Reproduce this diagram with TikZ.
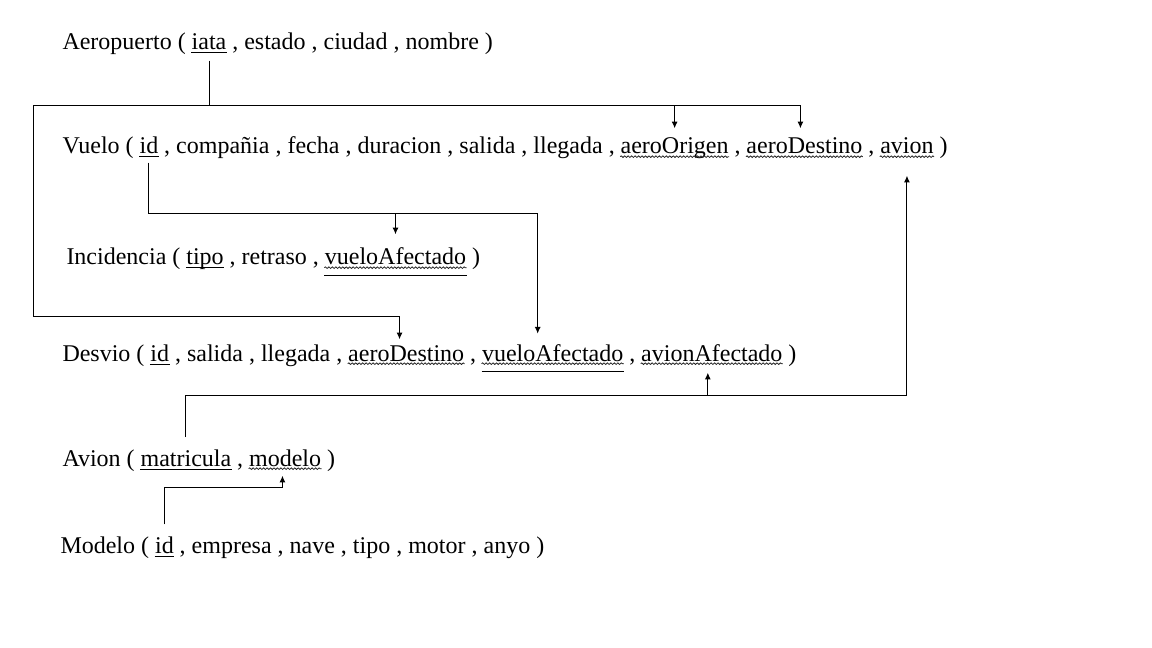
\documentclass[tikz,border=0pt]{standalone}
\usepackage{fontspec}
\setmainfont{Liberation Serif}
\usetikzlibrary{positioning,arrows.meta,decorations.pathmorphing}

\begin{document}
\begin{tikzpicture}[x=0.75pt,y=-0.75pt,line width=0.75pt,
	every node/.style={inner sep=0pt,font=\fontsize{18}{22}\selectfont},
	word/.style={base right=3.7pt of #1},
	fk/.style={decorate,decoration={snake,amplitude=0.6pt,segment length=2.6pt},line width=0.6pt,black!85},
	>={Latex[length=5pt,width=4.5pt]}]
	
	\useasboundingbox (0,0) rectangle (1152,648);
	
	% Aeropuerto
	\node[anchor=base west] (aero) at (62,50) {Aeropuerto (};
	\node[word=aero] (a-iata) {iata};
	\node[word=a-iata] (a-rest) {, estado , ciudad , nombre )};
	
	% Vuelo
	\node[anchor=base west] (vuelo) at (62,154) {Vuelo (};
	\node[word=vuelo] (v-id) {id};
	\node[word=v-id] (v-s1) {, compañia , fecha , duracion , salida , llegada ,};
	\node[word=v-s1] (v-origen) {aeroOrigen};
	\node[word=v-origen] (v-s2) {,};
	\node[word=v-s2] (v-destino) {aeroDestino};
	\node[word=v-destino] (v-s3) {,};
	\node[word=v-s3] (v-avion) {avion};
	\node[word=v-avion] (v-s4) {)};
	
	% Incidencia
	\node[anchor=base west] (incid) at (66,265) {Incidencia (};
	\node[word=incid] (i-tipo) {tipo};
	\node[word=i-tipo] (i-s1) {, retraso ,};
	\node[word=i-s1] (i-vuelo) {vueloAfectado};
	\node[word=i-vuelo] (i-s2) {)};
	
	% Desvio
	\node[anchor=base west] (desvio) at (62,361) {Desvio (};
	\node[word=desvio] (d-id) {id};
	\node[word=d-id] (d-s1) {, salida , llegada ,};
	\node[word=d-s1] (d-destino) {aeroDestino};
	\node[word=d-destino] (d-s2) {,};
	\node[word=d-s2] (d-vuelo) {vueloAfectado};
	\node[word=d-vuelo] (d-s3) {,};
	\node[word=d-s3] (d-avion) {avionAfectado};
	\node[word=d-avion] (d-s4) {)};
	
	% Avion
	\node[anchor=base west] (avion) at (62,466) {Avion (};
	\node[word=avion] (av-matricula) {matricula};
	\node[word=av-matricula] (av-s1) {,};
	\node[word=av-s1] (av-modelo) {modelo};
	\node[word=av-modelo] (av-s2) {)};
	
	% Modelo
	\node[anchor=base west] (modelo) at (60,553) {Modelo (};
	\node[word=modelo] (m-id) {id};
	\node[word=m-id] (m-rest) {, empresa , nave , tipo , motor , anyo )};
	
	% Primary keys
	\foreach \k in {a-iata,v-id,i-tipo,d-id,av-matricula,m-id}
		\draw ([yshift=-2.25pt]\k.base west) -- ([yshift=-2.25pt]\k.base east);
	\draw ([yshift=-8.25pt]i-vuelo.base west) -- ([yshift=-8.25pt]i-vuelo.base east);
	\draw ([yshift=-7.5pt]d-vuelo.base west) -- ([yshift=-7.5pt]d-vuelo.base east);
	
	% Foreign keys
	\foreach \k in {v-origen,v-destino,v-avion,i-vuelo,d-destino,d-vuelo,d-avion,av-modelo}
		\draw[fk] ([yshift=-2pt]\k.base west) -- ([yshift=-2pt]\k.base east);
	
	% Buses
	\coordinate (busA) at (33,106);
	\coordinate (busB) at (33,317);
	\coordinate (busC) at (0,214);
	\coordinate (busD) at (0,395);
	\coordinate (busE) at (0,487);
	
	% Aeropuerto -> Vuelo, Desvio
	\draw[shorten <=7.5pt] (a-iata.south) -- (a-iata.south |- busA);
	\draw[->,shorten >=7pt] (busA) -| (v-origen.north);
	\draw[->,shorten >=7pt] (busA) -| ([xshift=-3pt]v-destino.north);
	\draw[->,shorten >=4pt] (busA) -- (busB) -| ([xshift=-5pt]d-destino.north);
	
	% Vuelo -> Incidencia, Desvio
	\draw[->,shorten <=6pt,shorten >=7.5pt] (v-id.south) -- (v-id.south |- busC) -| ([xshift=-11.25pt]d-vuelo.north);
	\draw[->,shorten >=10pt] (v-id.south |- busC) -| (i-vuelo.north);
	
	% Avion -> Vuelo, Desvio
	\draw[->,shorten <=8.7pt,shorten >=15.75pt] (av-matricula.north) -- (av-matricula.north |- busD) -| (v-avion.south);
	\draw[->,shorten >=8.25pt] (av-matricula.north |- busD) -| ([xshift=-3pt]d-avion.south);
	
	% Modelo -> Avion
	\draw[->,shorten <=8.7pt,shorten >=6.75pt] (m-id.north) -- (m-id.north |- busE) -| ([xshift=-2pt]av-modelo.south);
	
\end{tikzpicture}
\end{document}
